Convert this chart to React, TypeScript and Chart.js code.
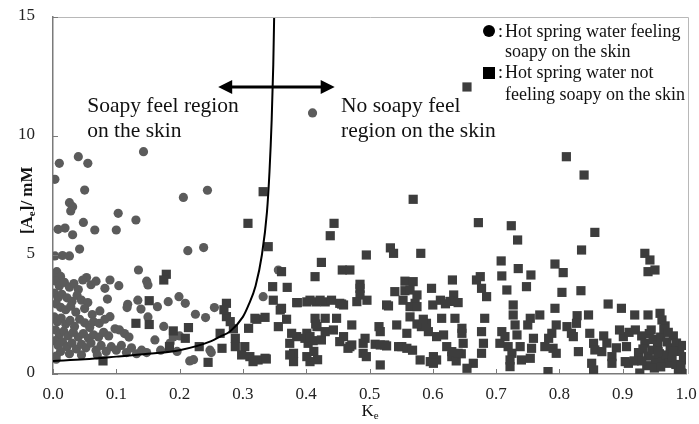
import React, { useEffect, useRef } from "react";
import { Chart, registerables } from "chart.js";

Chart.register(...registerables);

type Pt = [number, number];

// Axis ticks
const X_TICKS: number[] = [0, 0.1, 0.2, 0.3, 0.4, 0.5, 0.6, 0.7, 0.8, 0.9, 1.0];
const Y_TICKS: number[] = [0, 5, 10, 15];

// Hot spring water feeling soapy on the skin  (Ke, [Ae] in mM)
const soapyPoints: Pt[] = [
  [0.143, 9.34], [0.04, 9.13], [0.01, 8.85], [0.055, 8.85], [0.003, 8.18], [0.05, 7.73],
  [0.206, 7.42], [0.244, 7.72], [0.026, 7.2], [0.031, 7.03], [0.028, 6.85], [0.103, 6.75],
  [0.131, 6.47], [0.048, 6.37], [0.008, 6.08], [0.019, 6.13], [0.066, 6.05], [0.1, 6.05],
  [0.031, 5.85], [0.042, 5.25], [0.213, 5.18], [0.238, 5.31], [0.003, 4.96], [0.015, 4.98],
  [0.026, 4.96], [0.41, 10.97],
  [0.135, 4.37], [0.148, 3.9], [0.15, 3.74], [0.09, 3.95], [0.082, 3.6], [0.104, 3.71],
  [0.053, 4.05], [0.086, 3.15], [0.118, 2.93], [0.134, 3.1], [0.165, 2.83], [0.182, 3.04],
  [0.199, 3.25], [0.209, 2.97], [0.139, 2.73], [0.117, 2.79], [0.225, 2.51], [0.241, 2.37],
  [0.255, 2.79], [0.332, 3.25], [0.356, 4.37],
  [0.002, 4.2], [0.006, 4.3], [0.012, 4.1], [0.004, 3.9], [0.01, 3.7], [0.018, 3.85],
  [0.026, 3.65], [0.033, 3.8], [0.04, 3.55], [0.047, 3.95], [0.06, 3.75], [0.068, 3.9],
  [0.002, 3.4], [0.008, 3.2], [0.014, 3.35], [0.022, 3.2], [0.03, 3.05], [0.038, 3.3],
  [0.045, 3.1], [0.055, 3.0], [0.005, 2.95], [0.012, 2.8], [0.02, 2.7], [0.028, 2.85],
  [0.036, 2.6], [0.05, 2.75], [0.062, 2.5], [0.074, 2.65],
  [0.002, 2.4], [0.007, 2.2], [0.013, 2.35], [0.02, 2.1], [0.027, 2.25], [0.034, 2.0],
  [0.042, 2.3], [0.05, 2.15], [0.058, 1.95], [0.064, 2.2], [0.073, 2.13], [0.082, 2.3],
  [0.09, 2.41], [0.098, 1.9], [0.004, 1.85], [0.01, 1.65], [0.017, 1.8], [0.024, 1.6],
  [0.032, 1.75], [0.04, 1.55], [0.048, 1.7], [0.056, 1.5], [0.064, 1.65], [0.072, 1.55],
  [0.08, 1.75], [0.088, 1.6], [0.113, 1.7], [0.105, 1.85], [0.12, 1.55],
  [0.003, 1.4], [0.008, 1.2], [0.015, 1.35], [0.022, 1.15], [0.03, 1.3], [0.037, 1.05],
  [0.045, 1.25], [0.052, 1.1], [0.06, 1.3], [0.068, 1.0], [0.076, 1.2], [0.084, 0.95],
  [0.092, 1.15], [0.1, 1.0], [0.108, 1.2], [0.116, 0.9], [0.124, 1.1], [0.132, 0.85],
  [0.14, 1.0], [0.148, 0.9], [0.005, 0.75], [0.012, 0.95], [0.026, 0.85], [0.045, 0.8],
  [0.005, 0.62], [0.161, 1.43], [0.17, 1.0], [0.185, 1.3], [0.196, 0.95], [0.216, 0.55],
  [0.222, 0.6], [0.25, 0.9], [0.248, 1.0], [0.2, 1.6], [0.19, 1.55], [0.175, 2.0],
  [0.15, 2.4], [0.07, 0.8],
];

// Hot spring water not feeling soapy on the skin
const notSoapyPoints: Pt[] = [
  [0.179, 4.19], [0.175, 3.95], [0.152, 3.08], [0.131, 2.13], [0.152, 2.08], [0.274, 2.97],
  [0.274, 2.41], [0.19, 1.81], [0.214, 1.95], [0.209, 1.5], [0.231, 1.15], [0.264, 1.71],
  [0.267, 1.08], [0.184, 1.15], [0.245, 0.49], [0.079, 0.55], [0.332, 7.66], [0.308, 6.33],
  [0.34, 5.35], [0.322, 2.3], [0.335, 2.38], [0.309, 1.92], [0.288, 1.5], [0.288, 1.15],
  [0.303, 1.15], [0.311, 0.73], [0.324, 0.59], [0.335, 0.66], [0.298, 0.8], [0.316, 0.52],
  [0.337, 0.63], [0.319, 2.34], [0.27, 2.7], [0.28, 2.2], [0.285, 1.9],
  [0.361, 4.3], [0.347, 3.67], [0.37, 3.64], [0.444, 6.33], [0.438, 5.81], [0.424, 4.69],
  [0.414, 4.09], [0.457, 4.37], [0.469, 4.37], [0.385, 3.0], [0.401, 3.03], [0.416, 3.03],
  [0.43, 3.03], [0.456, 2.94], [0.359, 2.69], [0.369, 2.3], [0.414, 2.34], [0.43, 2.34],
  [0.448, 2.34], [0.356, 1.99], [0.385, 1.57], [0.401, 1.71], [0.403, 1.29], [0.411, 1.4],
  [0.374, 1.29], [0.38, 0.87], [0.406, 0.52], [0.401, 0.73], [0.377, 1.71], [0.374, 0.8],
  [0.38, 0.52], [0.348, 3.1], [0.361, 2.76], [0.386, 3.0], [0.406, 3.1], [0.422, 3.1],
  [0.44, 3.1], [0.453, 2.97], [0.459, 2.9], [0.472, 2.06], [0.398, 1.5], [0.406, 1.57],
  [0.417, 1.99], [0.424, 1.43], [0.43, 1.78], [0.443, 1.85], [0.453, 1.36], [0.459, 1.57],
  [0.469, 1.15], [0.412, 0.95], [0.418, 0.6], [0.415, 2.1],
  [0.569, 7.34], [0.495, 5.0], [0.533, 5.3], [0.538, 5.07], [0.581, 5.07], [0.654, 12.06],
  [0.485, 3.77], [0.485, 3.6], [0.485, 3.32], [0.48, 3.04], [0.54, 3.46], [0.556, 3.9],
  [0.556, 3.5], [0.569, 3.88], [0.564, 3.53], [0.575, 3.32], [0.572, 2.97], [0.564, 2.83],
  [0.553, 3.1], [0.598, 3.6], [0.631, 3.95], [0.633, 3.32], [0.627, 3.05], [0.496, 3.1],
  [0.527, 2.9], [0.53, 2.86], [0.6, 2.9], [0.612, 3.1], [0.62, 2.95], [0.64, 3.0],
  [0.472, 1.22], [0.466, 1.08], [0.493, 1.5], [0.49, 1.29], [0.49, 0.87], [0.495, 0.73],
  [0.509, 1.25], [0.517, 1.22], [0.524, 1.22], [0.517, 0.38], [0.515, 1.99], [0.517, 1.78],
  [0.527, 1.18], [0.543, 2.06], [0.546, 1.15], [0.551, 1.15], [0.559, 1.08], [0.559, 1.71],
  [0.568, 1.0], [0.575, 2.83], [0.59, 2.13], [0.593, 1.78], [0.582, 1.99], [0.58, 0.59],
  [0.596, 0.52], [0.601, 0.73], [0.606, 1.57], [0.617, 1.64], [0.622, 1.15], [0.63, 0.94],
  [0.63, 0.73], [0.606, 0.59], [0.601, 0.45], [0.614, 2.34], [0.635, 2.34], [0.637, 0.55],
  [0.645, 0.85], [0.564, 2.4], [0.575, 2.1], [0.585, 2.3],
  [0.672, 6.36], [0.724, 6.23], [0.734, 5.63], [0.856, 5.95], [0.835, 5.21], [0.811, 9.13],
  [0.839, 8.36], [0.935, 5.07], [0.943, 4.79], [0.94, 4.3], [0.951, 4.37],
  [0.708, 4.75], [0.735, 4.43], [0.793, 4.62], [0.806, 4.26], [0.709, 4.12], [0.755, 4.16],
  [0.748, 3.67], [0.717, 3.53], [0.804, 3.43], [0.834, 3.5], [0.669, 3.95], [0.675, 4.09],
  [0.677, 3.6], [0.685, 3.25], [0.877, 2.94], [0.898, 2.76], [0.919, 2.48], [0.94, 2.48],
  [0.959, 2.55], [0.962, 2.27], [0.967, 2.02], [0.727, 2.9], [0.727, 2.48], [0.73, 2.06],
  [0.754, 2.34], [0.75, 2.06], [0.769, 2.48], [0.793, 2.76], [0.795, 2.06], [0.828, 2.45],
  [0.846, 2.48], [0.827, 2.13], [0.812, 1.99], [0.819, 1.71], [0.822, 1.57], [0.788, 1.71],
  [0.783, 1.5], [0.777, 1.15], [0.79, 1.08], [0.795, 0.87], [0.782, 0.1], [0.848, 1.71],
  [0.854, 1.29], [0.856, 1.01], [0.851, 0.45], [0.854, 0.17], [0.867, 0.94], [0.883, 0.73],
  [0.883, 0.45], [0.83, 0.94], [0.901, 1.57], [0.906, 1.15], [0.904, 0.52], [0.909, 0.45],
  [0.927, 0.04], [0.988, 0.17], [1.0, 0.04], [0.996, 0.59], [1.0, 0.73],
  [0.709, 1.78], [0.714, 1.57], [0.706, 1.29], [0.719, 1.15], [0.725, 0.87], [0.722, 0.59],
  [0.722, 0.31], [0.733, 1.64], [0.738, 1.15], [0.74, 0.59], [0.759, 1.5], [0.756, 1.08],
  [0.754, 0.66], [0.682, 2.34], [0.677, 1.78], [0.68, 1.29], [0.677, 0.87], [0.664, 0.45],
  [0.654, 0.24], [0.646, 1.92], [0.646, 1.71], [0.648, 1.29], [0.64, 0.87],
  [0.92, 1.85], [0.93, 1.6], [0.935, 1.3], [0.942, 1.7], [0.948, 1.45], [0.955, 1.2],
  [0.96, 1.55], [0.965, 1.9], [0.97, 1.35], [0.975, 1.1], [0.98, 1.6], [0.985, 1.3],
  [0.99, 0.95], [0.995, 1.2], [0.925, 0.9], [0.932, 1.05], [0.94, 0.75], [0.946, 1.0],
  [0.952, 0.6], [0.958, 0.85], [0.963, 0.5], [0.968, 0.8], [0.973, 0.45], [0.978, 0.7],
  [0.984, 0.4], [0.992, 0.35], [0.938, 0.35], [0.95, 0.25], [0.96, 0.3], [0.918, 0.55],
  [0.945, 1.85], [0.972, 1.75], [0.956, 0.95], [0.98, 0.95], [0.93, 0.55],
  [0.87, 1.6], [0.875, 1.3], [0.89, 1.1], [0.895, 1.85], [0.91, 1.75],
];

// Boundary between the two regions
const boundaryCurve: Pt[] = [
  [0, 0.55], [0.05, 0.62], [0.1, 0.73], [0.15, 0.85], [0.2, 1.0], [0.25, 1.38],
  [0.264, 1.57], [0.28, 1.8], [0.3, 2.4], [0.309, 2.9], [0.32, 3.7], [0.33, 5.0],
  [0.338, 6.8], [0.342, 8.5], [0.3455, 10.7], [0.348, 13.0], [0.3495, 15.2],
];

// Double arrow across the boundary: [x from, x to] at height ARROW_Y
const ARROW_X: number[] = [0.261, 0.445];
const ARROW_Y = 12.06;

const LEFT_REGION_LINES: string[] = ["Soapy feel region", "on the skin"];
const RIGHT_REGION_LINES: string[] = ["No soapy feel", "region on the skin"];
const LEFT_REGION_X = 0.054;
const RIGHT_REGION_X = 0.455;
const REGION_BASELINES: number[] = [11.0, 9.96];

const LEGEND_SOAPY: string[] = ["Hot spring water feeling", "soapy on the skin"];
const LEGEND_NOT_SOAPY: string[] = ["Hot spring water not", "feeling soapy on the skin"];

const SERIF = '"Liberation Serif", "Times New Roman", serif';
const CIRCLE_COLOR = "#5b5b5b";
const SQUARE_COLOR = "#3d3d3d";

const toXY = (pts: Pt[]) => pts.map(([x, y]) => ({ x, y }));

const decorations = {
  id: "decorations",
  afterDraw(chart: any) {
    const { ctx, chartArea: a, scales } = chart;
    const xs = scales.x;
    const ys = scales.y;
    ctx.save();

    // light frame on top and right of the plot area
    ctx.strokeStyle = "#b8b8b8";
    ctx.lineWidth = 1;
    ctx.beginPath();
    ctx.moveTo(a.left, a.top + 0.5);
    ctx.lineTo(a.right + 2.5, a.top + 0.5);
    ctx.lineTo(a.right + 2.5, a.bottom);
    ctx.stroke();

    // inward tick marks
    ctx.strokeStyle = "#7a7a7a";
    ctx.lineWidth = 1;
    ctx.beginPath();
    X_TICKS.forEach((v) => {
      const px = Math.round(xs.getPixelForValue(v)) + 0.5;
      ctx.moveTo(px, a.bottom);
      ctx.lineTo(px, a.bottom - 5);
    });
    Y_TICKS.forEach((v) => {
      const py = Math.round(ys.getPixelForValue(v)) + 0.5;
      ctx.moveTo(a.left, py);
      ctx.lineTo(a.left + 5, py);
    });
    ctx.stroke();

    // tick labels
    ctx.fillStyle = "#222";
    ctx.font = `17px ${SERIF}`;
    ctx.textBaseline = "middle";
    ctx.textAlign = "center";
    X_TICKS.forEach((v) => {
      ctx.fillText(v.toFixed(1), xs.getPixelForValue(v), a.bottom + 21);
    });
    ctx.textAlign = "right";
    Y_TICKS.forEach((v) => {
      ctx.fillText(String(v), a.left - 18, ys.getPixelForValue(v) - 1);
    });

    // double-headed arrow
    const x1 = xs.getPixelForValue(ARROW_X[0]);
    const x2 = xs.getPixelForValue(ARROW_X[1]);
    const ay = ys.getPixelForValue(ARROW_Y);
    const head = 14;
    const half = 7;
    ctx.strokeStyle = "#000";
    ctx.fillStyle = "#000";
    ctx.lineWidth = 3;
    ctx.beginPath();
    ctx.moveTo(x1 + head - 2, ay);
    ctx.lineTo(x2 - head + 2, ay);
    ctx.stroke();
    ctx.beginPath();
    ctx.moveTo(x1, ay);
    ctx.lineTo(x1 + head, ay - half);
    ctx.lineTo(x1 + head, ay + half);
    ctx.closePath();
    ctx.fill();
    ctx.beginPath();
    ctx.moveTo(x2, ay);
    ctx.lineTo(x2 - head, ay - half);
    ctx.lineTo(x2 - head, ay + half);
    ctx.closePath();
    ctx.fill();

    // region labels
    ctx.fillStyle = "#111";
    ctx.font = `21.5px ${SERIF}`;
    ctx.textAlign = "left";
    ctx.textBaseline = "alphabetic";
    LEFT_REGION_LINES.forEach((t, i) => {
      ctx.fillText(t, xs.getPixelForValue(LEFT_REGION_X), ys.getPixelForValue(REGION_BASELINES[i]));
    });
    RIGHT_REGION_LINES.forEach((t, i) => {
      ctx.fillText(t, xs.getPixelForValue(RIGHT_REGION_X), ys.getPixelForValue(REGION_BASELINES[i]));
    });

    // legend
    const lx = a.right - 200;
    ctx.font = `18px ${SERIF}`;
    ctx.fillStyle = "#000";
    ctx.beginPath();
    ctx.arc(lx + 3, a.top + 14, 6, 0, Math.PI * 2);
    ctx.fill();
    ctx.fillRect(lx - 3, a.top + 50, 12, 12);
    ctx.fillStyle = "#111";
    ctx.fillText(":", lx + 12, a.top + 20);
    ctx.fillText(LEGEND_SOAPY[0], lx + 19, a.top + 20);
    ctx.fillText(LEGEND_SOAPY[1], lx + 19, a.top + 40);
    ctx.fillText(":", lx + 12, a.top + 61);
    ctx.fillText(LEGEND_NOT_SOAPY[0], lx + 19, a.top + 61);
    ctx.fillText(LEGEND_NOT_SOAPY[1], lx + 19, a.top + 83);

    // x-axis title: K with subscript e
    const cx = (a.left + a.right) / 2;
    ctx.font = `17px ${SERIF}`;
    ctx.fillText("K", cx - 8, a.bottom + 42);
    const kw = ctx.measureText("K").width;
    ctx.font = `11px ${SERIF}`;
    ctx.fillText("e", cx - 8 + kw, a.bottom + 45);

    // y-axis title: [Ae]/ mM, rotated
    ctx.translate(32, ys.getPixelForValue(7.3));
    ctx.rotate(-Math.PI / 2);
    const parts: [string, number, number][] = [
      ["[A", 17, 0],
      ["e", 11, 3],
      ["]/ mM", 17, 0],
    ];
    let total = 0;
    parts.forEach(([t, s]) => {
      ctx.font = `bold ${s}px ${SERIF}`;
      total += ctx.measureText(t).width;
    });
    let px = -total / 2;
    parts.forEach(([t, s, dy]) => {
      ctx.font = `bold ${s}px ${SERIF}`;
      ctx.fillText(t, px, dy);
      px += ctx.measureText(t).width;
    });

    ctx.restore();
  },
};

export default function App() {
  const canvasRef = useRef<HTMLCanvasElement | null>(null);

  useEffect(() => {
    const canvas = canvasRef.current;
    if (!canvas) return;
    const chart = new Chart(canvas, {
      type: "scatter",
      data: {
        datasets: [
          {
            type: "line",
            label: "boundary",
            data: toXY(boundaryCurve),
            borderColor: "#000",
            borderWidth: 2,
            pointRadius: 0,
            fill: false,
            cubicInterpolationMode: "monotone",
            showLine: true,
          } as any,
          {
            label: "Hot spring water not feeling soapy on the skin",
            data: toXY(notSoapyPoints),
            pointStyle: "rect",
            pointRadius: 6.5,
            pointBackgroundColor: SQUARE_COLOR,
            pointBorderWidth: 0,
            pointBorderColor: SQUARE_COLOR,
          },
          {
            label: "Hot spring water feeling soapy on the skin",
            data: toXY(soapyPoints),
            pointStyle: "circle",
            pointRadius: 4.6,
            pointBackgroundColor: CIRCLE_COLOR,
            pointBorderWidth: 0,
            pointBorderColor: CIRCLE_COLOR,
          },
        ],
      },
      options: {
        animation: false,
        responsive: false,
        maintainAspectRatio: false,
        layout: { padding: { top: 17, right: 13, left: 0, bottom: 0 } },
        plugins: {
          legend: { display: false },
          tooltip: { enabled: false },
        },
        scales: {
          x: {
            type: "linear",
            min: 0,
            max: 1,
            afterFit: (s: any) => {
              s.height = 50;
            },
            ticks: { display: false },
            grid: { display: false },
            border: { display: true, color: "#7a7a7a", width: 1.5 },
          },
          y: {
            type: "linear",
            min: 0,
            max: 15,
            afterFit: (s: any) => {
              s.width = 53;
            },
            ticks: { display: false },
            grid: { display: false },
            border: { display: true, color: "#7a7a7a", width: 1.5 },
          },
        },
      },
      plugins: [decorations],
    });
    return () => chart.destroy();
  }, []);

  return (
    <div style={{ position: "fixed", left: 0, top: 0, width: 699, height: 424, background: "#fff" }}>
      <canvas ref={canvasRef} width={699} height={424} style={{ width: 699, height: 424 }} />
    </div>
  );
}
